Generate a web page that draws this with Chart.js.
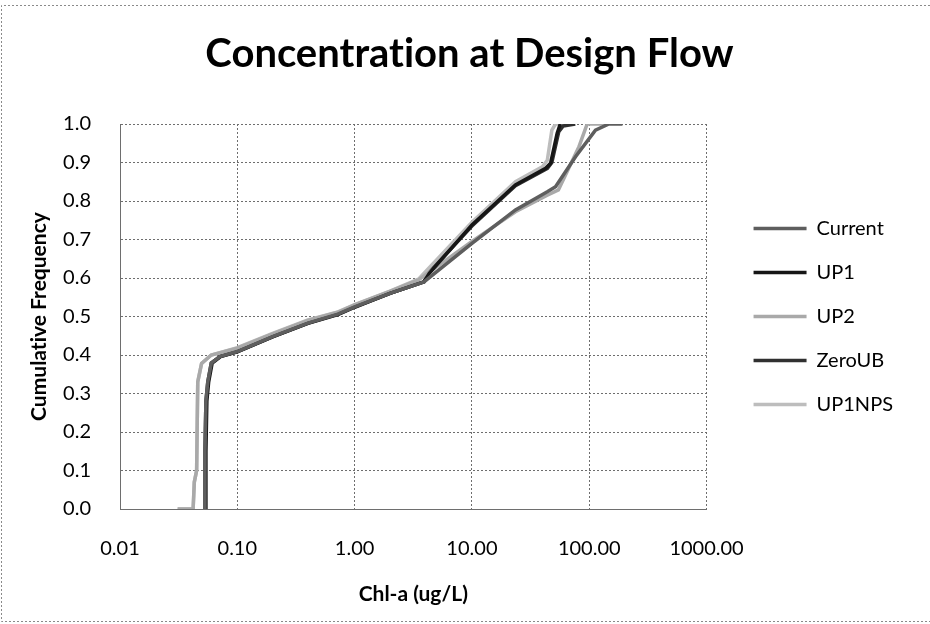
<!DOCTYPE html>
<html>
<head>
<meta charset="utf-8">
<script src="https://cdn.jsdelivr.net/npm/chart.js@4.4.0/dist/chart.umd.min.js"></script>
<style>
  html, body { margin: 0; padding: 0; background: #fff; }
</style>
</head>
<body>
<canvas id="chart" width="930" height="624"></canvas>
<script>
// Tick values
const xTicks = [0.01, 0.1, 1, 10, 100, 1000];
const yTicks = [0, 0.1, 0.2, 0.3, 0.4, 0.5, 0.6, 0.7, 0.8, 0.9, 1.0];

// Series (Chl-a ug/L vs cumulative frequency)
const currentX = [0.053, 0.053, 0.054, 0.056, 0.060, 0.071, 0.1, 0.2, 0.4, 0.72, 1.0, 2.0, 3.9, 10, 23.5, 43.9, 51.6, 76.4, 113, 147, 192];
const currentY = [0.0, 0.15, 0.28, 0.33, 0.379, 0.396, 0.409, 0.448, 0.483, 0.506, 0.525, 0.56, 0.59, 0.69, 0.777, 0.824, 0.837, 0.915, 0.984, 1.0, 1.0];

const up1X = [0.054, 0.054, 0.055, 0.057, 0.061, 0.072, 0.1, 0.2, 0.4, 0.72, 1.0, 2.0, 3.9, 4.33, 10, 23.5, 42.5, 46.8, 53.3, 56.6];
const up1Y = [0.0, 0.15, 0.28, 0.33, 0.379, 0.396, 0.408, 0.447, 0.482, 0.505, 0.524, 0.56, 0.59, 0.612, 0.738, 0.842, 0.885, 0.898, 0.976, 1.0];

const up2X = [0.031, 0.042, 0.043, 0.045, 0.046, 0.0496, 0.06, 0.1, 0.2, 0.4, 0.72, 1.0, 2.0, 3.5, 10, 23.5, 43.9, 54.6, 81.7, 96, 140];
const up2Y = [0.0, 0.0, 0.07, 0.1, 0.33, 0.378, 0.40, 0.418, 0.455, 0.49, 0.511, 0.53, 0.565, 0.595, 0.695, 0.772, 0.815, 0.829, 0.941, 1.0, 1.0];

const zeroUbX = [0.053, 0.053, 0.054, 0.056, 0.060, 0.071, 0.1, 0.2, 0.4, 0.72, 1.0, 2.0, 3.9, 4.2, 10, 23.5, 44, 48, 55, 60, 76];
const zeroUbY = [0.0, 0.15, 0.28, 0.33, 0.379, 0.396, 0.409, 0.448, 0.483, 0.506, 0.525, 0.56, 0.59, 0.61, 0.735, 0.84, 0.885, 0.9, 0.98, 0.995, 1.0];

const up1npsX = [0.031, 0.042, 0.043, 0.045, 0.046, 0.0496, 0.06, 0.1, 0.2, 0.4, 0.72, 1.0, 2.0, 3.5, 10, 23.5, 39.8, 43.9, 48, 51.6, 66];
const up1npsY = [0.0, 0.0, 0.07, 0.1, 0.33, 0.378, 0.40, 0.419, 0.456, 0.491, 0.512, 0.531, 0.566, 0.597, 0.745, 0.85, 0.889, 0.906, 0.984, 1.0, 1.0];

const seriesNames = ['Current', 'UP1', 'UP2', 'ZeroUB', 'UP1NPS'];
const seriesColors = ['#5e5e5e', '#161616', '#a9a9a9', '#303030', '#bdbdbd'];
const seriesX = [currentX, up1X, up2X, zeroUbX, up1npsX];
const seriesY = [currentY, up1Y, up2Y, zeroUbY, up1npsY];

const FONT = 'Lato, "Open Sans", sans-serif';

// white background + dotted chart frame (right side runs off the picture)
const framePlugin = {
  id: 'frame',
  afterLayout(chart) {
    // the original chart is wider than the picture, so its title sits right of centre
    if (chart.titleBlock) chart.titleBlock.left += 36;
  },
  beforeDraw(chart) {
    const c = chart.ctx;
    c.textRendering = 'optimizeSpeed'; // no "ti" ligature
    c.save();
    c.fillStyle = '#fff';
    c.fillRect(0, 0, chart.width, chart.height);
    c.setLineDash([2, 2]);
    c.strokeStyle = '#8a8a8a';
    c.lineWidth = 1;
    c.beginPath();
    c.moveTo(chart.width, 5.5);
    c.lineTo(1.5, 5.5);
    c.lineTo(1.5, 621.5);
    c.lineTo(chart.width, 621.5);
    c.stroke();
    c.restore();
  },
};

const datasets = seriesNames.map((name, i) => ({
  label: name,
  data: seriesX[i].map((x, j) => ({ x, y: seriesY[i][j] })),
  borderColor: seriesColors[i],
  backgroundColor: seriesColors[i],
  borderWidth: 3.5,
  pointRadius: 0,
  tension: 0,
  fill: false,
}));

new Chart(document.getElementById('chart'), {
  type: 'line',
  data: { datasets },
  plugins: [framePlugin],
  options: {
    responsive: false,
    animation: false,
    layout: { padding: { left: 0, right: 27, top: 0, bottom: 0 } },
    plugins: {
      title: {
        display: true,
        text: 'Concentration at Design Flow',
        color: '#000',
        font: { family: FONT, size: 40, weight: 'bold' },
        padding: { top: 30, bottom: 46 },
      },
      legend: {
        position: 'right',
        fullSize: false,
        maxWidth: 230,
        labels: {
          color: '#000',
          font: { family: FONT, size: 20 },
          usePointStyle: true,
          pointStyle: 'line',
          pointStyleWidth: 53,
          padding: 24,
        },
      },
      tooltip: { enabled: false },
    },
    scales: {
      x: {
        type: 'logarithmic',
        min: 0.01,
        max: 1000,
        afterBuildTicks(scale) {
          scale.ticks = xTicks.map((v) => ({ value: v }));
        },
        afterFit(scale) { scale.height = 115; },
        ticks: {
          autoSkip: false,
          maxRotation: 0,
          padding: 28,
          color: '#000',
          font: { family: FONT, size: 20 },
          callback: (v) => Number(v).toFixed(2),
        },
        grid: { color: '#6e6e6e', lineWidth: 1, drawTicks: false },
        border: { display: true, color: '#6e6e6e', dash: [2, 2] },
        title: {
          display: true,
          text: 'Chl-a (ug/L)',
          color: '#000',
          font: { family: FONT, size: 21, weight: 'bold' },
          padding: { top: 0, bottom: 17 },
        },
      },
      y: {
        type: 'linear',
        min: 0,
        max: 1,
        afterBuildTicks(scale) {
          scale.ticks = yTicks.map((v) => ({ value: v }));
        },
        afterFit(scale) { scale.width = 120; },
        ticks: {
          padding: 29,
          color: '#000',
          font: { family: FONT, size: 20 },
          callback: (v) => Number(v).toFixed(1),
        },
        grid: { color: '#6e6e6e', lineWidth: 1, drawTicks: false },
        border: { display: true, color: '#6e6e6e', dash: [2, 2] },
        title: {
          display: true,
          text: 'Cumulative Frequency',
          color: '#000',
          font: { family: FONT, size: 21, weight: 'bold' },
          padding: { top: 27, bottom: 0 },
        },
      },
      // spacer between the plot and the legend
      y2: {
        type: 'linear',
        position: 'right',
        display: true,
        grid: { display: false, drawOnChartArea: false },
        ticks: { display: false },
        border: { display: false },
        afterFit(scale) { scale.width = 23; },
      },
    },
  },
});
</script>
</body>
</html>
